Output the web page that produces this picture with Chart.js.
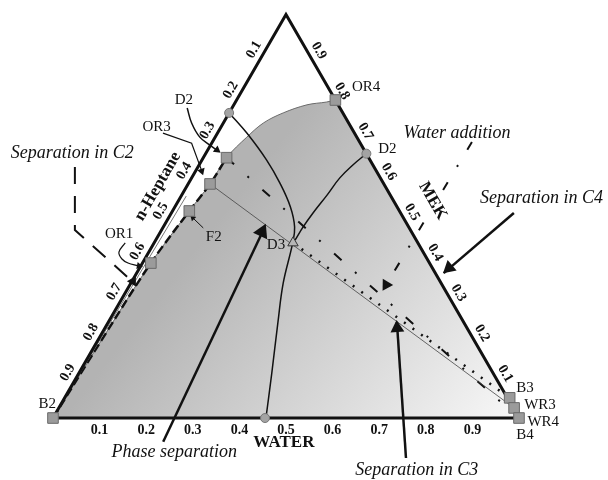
<!DOCTYPE html>
<html>
<head>
<meta charset="utf-8">
<script src="https://cdn.jsdelivr.net/npm/chart.js@4.4.1/dist/chart.umd.min.js"></script>
<style>
  html, body { margin: 0; padding: 0; background: #fff; }
  canvas { display: block; }
</style>
</head>
<body>
<canvas id="chart" width="608" height="480"></canvas>
<script>
// Every composition is [MEK, WATER]; n-heptane = 1 - MEK - WATER.

const tickValues = [0.1, 0.2, 0.3, 0.4, 0.5, 0.6, 0.7, 0.8, 0.9];

const triangle = [[0, 0], [1, 0], [0, 1], [0, 0]];

// two-phase envelope (heptane-rich branch then the arc up to OR4)
const binodal = [[0, 0], [0.2, 0.008], [0.384, 0.018], [0.513, 0.036], [0.580, 0.047], [0.645, 0.050],
  [0.696, 0.068], [0.731, 0.086], [0.756, 0.116], [0.776, 0.157], [0.783, 0.196], [0.788, 0.212]];
const waterBranch = [[0.783, 0.196], [0.788, 0.212], [0, 1]];
const heptaneEdgeThin = [[0, 0], [0.55, 0.011]];
const heptaneDashed = [[0, 0], [0.2, 0.008], [0.384, 0.018], [0.513, 0.036], [0.580, 0.047], [0.645, 0.050]];

const curveA = [[0.756, 0], [0.706, 0.063], [0.639, 0.139], [0.582, 0.196], [0.523, 0.248], [0.473, 0.282],
  [0.432, 0.298], [0.334, 0.327], [0.235, 0.365], [0.111, 0.414], [0, 0.457]];
const curveB = [[0.655, 0.345], [0.627, 0.330], [0.595, 0.318], [0.553, 0.312], [0.508, 0.304], [0.473, 0.300], [0.441, 0.299]];

const tieLine = [[0.580, 0.047], [0.025, 0.977]];
const sepC3 = [[0.434, 0.298], [0.05, 0.955]];
const sepC4 = [[0.645, 0.050], [0.035, 0.948]];
const waterAdd = [[0.684, 0.557], [0.330, 0.550]];
const sepC2 = [[0.622, -0.264], [0.466, -0.186], [0.342, -0.004]];

const arrowPhase = [[-0.059, 0.266], [0.471, 0.218]];
const arrowC3 = [[-0.099, 0.807], [0.238, 0.619]];
const arrowC4 = [[0.508, 0.735], [0.359, 0.659]];
const arrowOR1 = [[0.434, -0.062], [0.411, -0.064], [0.394, -0.049], [0.384, -0.031], [0.377, -0.006]];
const arrowD2 = [[0.768, -0.096], [0.731, -0.068], [0.696, -0.033], [0.676, -0.001], [0.662, 0.023]];
const arrowOR3 = [[0.706, -0.117], [0.681, -0.043], [0.610, 0.015]];
const arrowF2 = [[0.471, 0.087], [0.496, 0.052]];

const bigHeads = [[0.461, 0.218], [0.223, 0.627], [0.372, 0.664], [0.330, 0.550], [0.339, 0.002]];
const bigHeadAngles = [25, -4, -131, 211, 30];
const smallHeads = [[0.377, -0.004], [0.664, 0.020], [0.612, 0.013], [0.496, 0.052]];
const smallHeadAngles = [101, 127, 161, -45];

const squares = [[0, 0], [0.384, 0.018], [0.513, 0.036], [0.580, 0.047], [0.645, 0.050],
  [0.788, 0.212], [0.05, 0.955], [0.025, 0.977], [0, 1]];
const circles = [[0.756, 0], [0.655, 0.345], [0, 0.455]];
const triangles = [[0.434, 0.298]];

const pointLabels = [
  ['OR1', 0.456, -0.086], ['D2', 0.788, -0.113], ['OR3', 0.721, -0.138], ['OR4', 0.820, 0.262],
  ['D2', 0.667, 0.384], ['F2', 0.448, 0.121], ['D3', 0.429, 0.264], ['B2', 0.035, -0.030],
  ['B3', 0.074, 0.976], ['WR3', 0.032, 1.029], ['WR4', -0.010, 1.057], ['B4', -0.042, 1.034]
];
const noteLabels = [
  ['Separation in C2', 0.657, -0.287], ['Phase separation', -0.084, 0.302],
  ['Separation in C3', -0.129, 0.845], ['Water addition', 0.706, 0.514],
  ['Separation in C4', 0.545, 0.776]
];
const axisTitles = [['n-Heptane', 0.574, -0.062, -60], ['MEK', 0.538, 0.546, 60], ['WATER', -0.061, 0.526, 0]];

// ── ternary → plot units ─────────────────────────────
const SQ = Math.sqrt(3) / 2;
const xy = ([m, w]) => ({ x: w + m / 2, y: m * SQ });

function path(points, opts) {
  return Object.assign({
    data: points.map(xy), showLine: true, pointRadius: 0, fill: false,
    borderColor: '#111', borderWidth: 1.5, tension: 0, order: 5
  }, opts);
}

function shade(ctx) {
  const chart = ctx.chart;
  if (!chart.chartArea) return '#c0c0c0';
  const { x, y } = chart.scales;
  const a = xy([0.55, 0.12]), b = xy([0, 1]);
  const g = chart.ctx.createLinearGradient(x.getPixelForValue(a.x), y.getPixelForValue(a.y),
    x.getPixelForValue(b.x), y.getPixelForValue(b.y));
  g.addColorStop(0, '#b3b3b3');
  g.addColorStop(1, '#f8f8f8');
  return g;
}

// ── textes: graduations, titres, étiquettes ──────────
const textPlugin = {
  id: 'ternaryText',
  afterDatasetsDraw(chart) {
    const { ctx, scales: { x, y } } = chart;
    const pos = (m, w) => { const p = xy([m, w]); return [x.getPixelForValue(p.x), y.getPixelForValue(p.y)]; };
    const put = (text, m, w, font, rot = 0, dx = 0, dy = 0) => {
      const [X, Y] = pos(m, w);
      ctx.save();
      ctx.translate(X + dx, Y + dy);
      ctx.rotate(rot * Math.PI / 180);
      ctx.font = font;
      ctx.fillStyle = '#111';
      ctx.textAlign = 'center';
      ctx.textBaseline = 'middle';
      ctx.fillText(text, 0, 0);
      ctx.restore();
    };
    const tickFont = 'bold 14px "Liberation Serif"';
    tickValues.forEach((v) => {
      const s = v.toFixed(1);
      put(s, 1 - v, 0, tickFont, -60, -0.866 * 10, -0.5 * 10);   // n-heptane side
      put(s, v, 1 - v, tickFont, 60, 0.866 * 11, -0.5 * 8);      // MEK side
      put(s, 0, v, tickFont, 0, 0, 12);                          // water side
    });
    axisTitles.forEach(([t, m, w, r]) => put(t, m, w, 'bold 17px "Liberation Serif"', r));
    noteLabels.forEach(([t, m, w]) => put(t, m, w, 'italic 18px "Liberation Serif"'));
    pointLabels.forEach(([t, m, w]) => put(t, m, w, '15px "Liberation Serif"'));
  }
};

new Chart(document.getElementById('chart'), {
  type: 'scatter',
  data: {
    datasets: [
      path(binodal, { fill: 'origin', backgroundColor: shade, borderColor: '#6a6a6a', borderWidth: 1, tension: 0.35, order: 20 }),
      path(waterBranch, { fill: 'origin', backgroundColor: shade, borderWidth: 0, order: 21 }),
      path(triangle, { borderWidth: 3, borderColor: '#111', borderJoinStyle: 'miter', order: 2 }),
      path(heptaneEdgeThin, { borderColor: '#777', borderWidth: 1 }),
      path(heptaneDashed, { borderWidth: 2.5, borderDash: [9, 4], tension: 0.35 }),
      path(curveA, { tension: 0.4 }),
      path(curveB, { tension: 0.4 }),
      path(tieLine, { borderColor: '#444', borderWidth: 0.8 }),
      path(sepC3, { borderWidth: 2.5, borderDash: [2, 8.5] }),
      path(sepC4, { borderWidth: 2, borderDash: [10, 18, 2, 18] }),
      path(waterAdd, { borderWidth: 2, borderDash: [9, 18, 2, 18] }),
      path(sepC2, { borderWidth: 2, borderDash: [17, 12] }),
      path(arrowPhase, { borderWidth: 2.5 }),
      path(arrowC3, { borderWidth: 2.5 }),
      path(arrowC4, { borderWidth: 2.5 }),
      path(arrowOR1, { borderWidth: 1.2, tension: 0.4 }),
      path(arrowD2, { borderWidth: 1.5, tension: 0.4 }),
      path(arrowOR3, { borderWidth: 1.2 }),
      path(arrowF2, { borderWidth: 1 }),
      { data: bigHeads.map(xy), pointStyle: 'triangle', pointRotation: bigHeadAngles,
        pointRadius: [9, 8, 8, 7, 6], pointBackgroundColor: '#111', pointBorderWidth: 0, order: 1 },
      { data: smallHeads.map(xy), pointStyle: 'triangle', pointRotation: smallHeadAngles,
        pointRadius: [4, 4.5, 4.5, 3.5], pointBackgroundColor: '#111', pointBorderWidth: 0, order: 1 },
      { data: squares.map(xy), pointStyle: 'rect', pointRadius: 7.5,
        pointBackgroundColor: '#9b9b9b', pointBorderColor: '#6a6a6a', pointBorderWidth: 1, order: 0 },
      { data: circles.map(xy), pointStyle: 'circle', pointRadius: 4.5,
        pointBackgroundColor: '#a3a3a3', pointBorderColor: '#777', pointBorderWidth: 1, order: 0 },
      { data: triangles.map(xy), pointStyle: 'triangle', pointRadius: 6,
        pointBackgroundColor: '#b5b5b5', pointBorderColor: '#333', pointBorderWidth: 1, order: 0 }
    ]
  },
  options: {
    responsive: false,
    animation: false,
    events: [],
    layout: { padding: 0, autoPadding: false },
    plugins: { legend: { display: false }, tooltip: { enabled: false } },
    scales: {
      x: { type: 'linear', min: -0.1137, max: 1.1910, display: false },
      y: { type: 'linear', min: -0.1330, max: 0.8970, display: false }
    }
  },
  plugins: [textPlugin]
});
</script>
</body>
</html>
